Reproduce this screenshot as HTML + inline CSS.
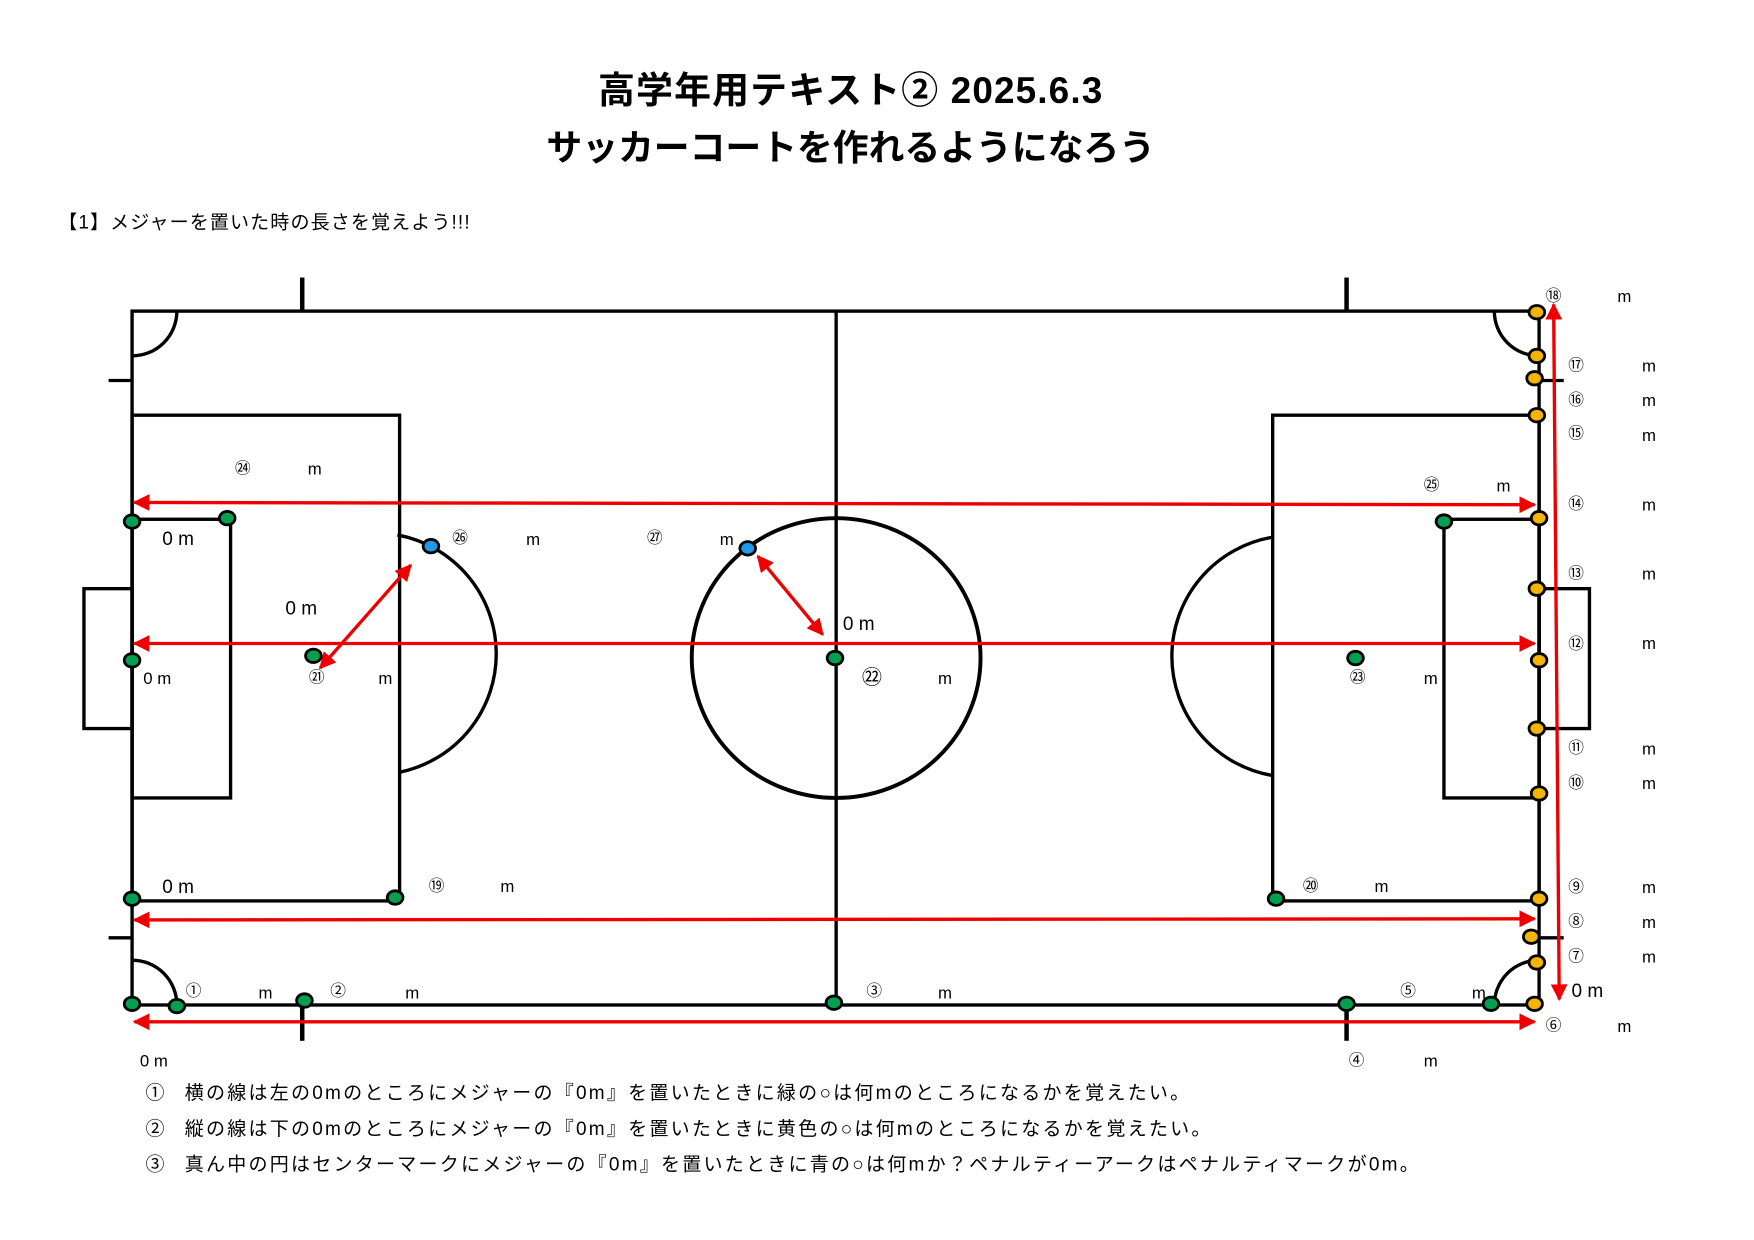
<!DOCTYPE html>
<html><head><meta charset="utf-8"><style>
html,body{margin:0;padding:0;background:#fff;}
svg{display:block;}
text{font-family:"Liberation Sans","Noto Sans CJK JP",sans-serif;fill:#000;}
.t{font-weight:bold;font-size:33px;text-anchor:middle;}
.n{font-size:14px;}
.m{font-size:15px;}
.b{font-size:17px;}
</style></head><body>
<svg width="1754" height="1240" viewBox="0 0 1567 1108" preserveAspectRatio="none" xmlns="http://www.w3.org/2000/svg">
<defs>
<marker id="ah" viewBox="0 0 10 10" refX="9" refY="5" markerWidth="5" markerHeight="5" orient="auto-start-reverse"><path d="M0,0 L10,5 L0,10 z" fill="#e00"/></marker>
</defs>
<text class="t" x="760" y="92" style="letter-spacing:1px">高学年用テキスト② 2025.6.3</text>
<text class="t" x="760" y="143" style="font-size:32px">サッカーコートを作れるようになろう</text>
<text class="b" x="52" y="204" style="letter-spacing:1px">【1】メジャーを置いた時の長さを覚えよう!!!</text>

<g fill="none" stroke="#000" stroke-width="3">
<rect x="118" y="278" width="1257" height="620"/>
<line x1="747" y1="278" x2="747" y2="898"/>
<line x1="270" y1="248" x2="270" y2="278" stroke-width="4"/>
<line x1="1203" y1="248" x2="1203" y2="278" stroke-width="4"/>
<line x1="270" y1="898" x2="270" y2="930" stroke-width="4"/>
<line x1="1203" y1="898" x2="1203" y2="930" stroke-width="4"/>
<line x1="97" y1="340" x2="118" y2="340"/>
<line x1="97" y1="838" x2="118" y2="838"/>
<line x1="1375" y1="340" x2="1397" y2="340"/>
<line x1="1375" y1="838" x2="1397" y2="838"/>
<path d="M118,318 A40,40 0 0 0 158,278"/>
<path d="M158,898 A40,40 0 0 0 118,858"/>
<path d="M1335,278 A40,40 0 0 0 1375,318"/>
<path d="M1375,858 A40,40 0 0 0 1335,898"/>
<rect x="118" y="371" width="239" height="434"/>
<rect x="118" y="464" width="88" height="249"/>
<rect x="75" y="526" width="43" height="125"/>
<path d="M355,478 A108,108 0 0 1 357,690"/>
<rect x="1137" y="371" width="238" height="434"/>
<rect x="1290" y="464" width="85" height="249"/>
<rect x="1375" y="526" width="45" height="125"/>
<path d="M1137,480 A108,108 0 0 0 1137,693"/>
<ellipse cx="747" cy="588" rx="129" ry="125" stroke-width="3.5"/>
</g>

<g stroke="#e00" stroke-width="3" fill="none" marker-start="url(#ah)" marker-end="url(#ah)">
<line x1="120" y1="449" x2="1371" y2="451"/>
<line x1="120" y1="575" x2="1371" y2="575"/>
<line x1="120" y1="822" x2="1371" y2="821"/>
<line x1="120" y1="913" x2="1371" y2="913"/>
<line x1="1388" y1="272" x2="1393" y2="893"/>
<line x1="286" y1="597" x2="367" y2="505"/>
<line x1="677" y1="497" x2="735" y2="567"/>
</g>

<g stroke="#000" stroke-width="2.5">
<g fill="#00a050">
<ellipse cx="118" cy="466" rx="7" ry="6"/><ellipse cx="203" cy="463" rx="7" ry="6"/>
<ellipse cx="118" cy="590" rx="7" ry="6"/><ellipse cx="280" cy="586" rx="7" ry="6"/>
<ellipse cx="118" cy="803" rx="7" ry="6"/><ellipse cx="353" cy="802" rx="7" ry="6"/>
<ellipse cx="118" cy="897" rx="7" ry="6"/><ellipse cx="158" cy="899" rx="7" ry="6"/>
<ellipse cx="272" cy="894" rx="7" ry="6"/><ellipse cx="745" cy="896" rx="7" ry="6"/>
<ellipse cx="746" cy="588" rx="7" ry="6"/><ellipse cx="1203" cy="897" rx="7" ry="6"/>
<ellipse cx="1332" cy="897" rx="7" ry="6"/><ellipse cx="1290" cy="466" rx="7" ry="6"/>
<ellipse cx="1140" cy="803" rx="7" ry="6"/><ellipse cx="1211" cy="588" rx="7" ry="6"/>
</g>
<g fill="#1e9be8">
<ellipse cx="385" cy="488" rx="7" ry="6"/><ellipse cx="668" cy="490" rx="7" ry="6"/>
</g>
<g fill="#f5b400">
<ellipse cx="1373" cy="279" rx="7" ry="6"/><ellipse cx="1373" cy="318" rx="7" ry="6"/>
<ellipse cx="1371" cy="338" rx="7" ry="6"/><ellipse cx="1373" cy="371" rx="7" ry="6"/>
<ellipse cx="1375" cy="463" rx="7" ry="6"/><ellipse cx="1373" cy="526" rx="7" ry="6"/>
<ellipse cx="1375" cy="590" rx="7" ry="6"/><ellipse cx="1373" cy="651" rx="7" ry="6"/>
<ellipse cx="1375" cy="709" rx="7" ry="6"/><ellipse cx="1375" cy="803" rx="7" ry="6"/>
<ellipse cx="1368" cy="837" rx="7" ry="6"/><ellipse cx="1373" cy="860" rx="7" ry="6"/>
<ellipse cx="1371" cy="897" rx="7" ry="6"/>
</g>
</g>

<g class="n">
<text x="166" y="890">①</text><text x="231" y="892" class="m">m</text>
<text x="295" y="890">②</text><text x="362" y="892" class="m">m</text>
<text x="774" y="890">③</text><text x="838" y="892" class="m">m</text>
<text x="1205" y="952">④</text><text x="1272" y="953" class="m">m</text>
<text x="1251" y="890">⑤</text><text x="1315" y="892" class="m">m</text>
<text x="1381" y="921">⑥</text><text x="1445" y="922" class="m">m</text>
<text x="1401" y="859">⑦</text><text x="1467" y="860" class="m">m</text>
<text x="1401" y="828">⑧</text><text x="1467" y="829" class="m">m</text>
<text x="1401" y="797">⑨</text><text x="1467" y="798" class="m">m</text>
<text x="1401" y="704">⑩</text><text x="1467" y="705" class="m">m</text>
<text x="1401" y="673">⑪</text><text x="1467" y="674" class="m">m</text>
<text x="1401" y="580">⑫</text><text x="1467" y="580" class="m">m</text>
<text x="1401" y="517">⑬</text><text x="1467" y="518" class="m">m</text>
<text x="1401" y="455">⑭</text><text x="1467" y="456" class="m">m</text>
<text x="1401" y="392">⑮</text><text x="1467" y="394" class="m">m</text>
<text x="1401" y="362">⑯</text><text x="1467" y="363" class="m">m</text>
<text x="1401" y="331">⑰</text><text x="1467" y="332" class="m">m</text>
<text x="1381" y="269">⑱</text><text x="1445" y="270" class="m">m</text>
<text x="383" y="796">⑲</text><text x="447" y="797" class="m">m</text>
<text x="1164" y="796">⑳</text><text x="1228" y="797" class="m">m</text>
<text x="276" y="610">㉑</text><text x="338" y="611" class="m">m</text>
<text x="770" y="611" style="font-size:18px">㉒</text><text x="838" y="611" class="m">m</text>
<text x="1206" y="610">㉓</text><text x="1272" y="611" class="m">m</text>
<text x="210" y="423">㉔</text><text x="275" y="424" class="m">m</text>
<text x="1272" y="438">㉕</text><text x="1337" y="439" class="m">m</text>
<text x="404" y="485">㉖</text><text x="470" y="487" class="m">m</text>
<text x="578" y="485">㉗</text><text x="643" y="487" class="m">m</text>
</g>
<g class="m">
<text x="145" y="487" style="font-size:17px">0 m</text>
<text x="255" y="549" style="font-size:17px">0 m</text>
<text x="128" y="611">0 m</text>
<text x="753" y="563" style="font-size:17px">0 m</text>
<text x="145" y="798" style="font-size:17px">0 m</text>
<text x="1404" y="891" style="font-size:17px">0 m</text>
<text x="125" y="953">0 m</text>
</g>
<g class="b" style="letter-spacing:2px">
<text x="130" y="982">①<tspan x="165">横の線は左の0mのところにメジャーの『0m』を置いたときに緑の○は何mのところになるかを覚えたい。</tspan></text>
<text x="130" y="1014">②<tspan x="165">縦の線は下の0mのところにメジャーの『0m』を置いたときに黄色の○は何mのところになるかを覚えたい。</tspan></text>
<text x="130" y="1046">③<tspan x="165">真ん中の円はセンターマークにメジャーの『0m』を置いたときに青の○は何mか？ペナルティーアークはペナルティマークが0m。</tspan></text>
</g>
</svg>
</body></html>
